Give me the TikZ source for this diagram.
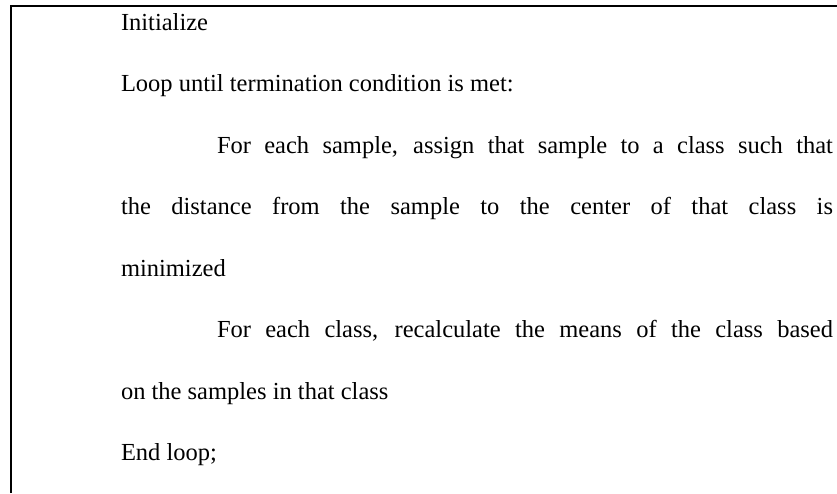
\documentclass[tikz,border=0pt]{standalone}
\usepackage{fontspec}
\setmainfont{Liberation Serif}
\begin{document}
\begin{tikzpicture}[x=1pt,y=1pt,
  codeline/.style={anchor=base west,inner sep=0pt,outer sep=0pt,
    font=\fontsize{24.5}{30}\selectfont}]
  \useasboundingbox (0,0) rectangle (837,-493);
  % frame: left and top rules only
  \draw[line width=2.4pt] (10.7,-493) -- (10.7,-5.8) -- (837,-5.8);
  % pseudocode lines, 61.5pt apart
  \node[codeline] (l1) at (121,-30) {Initialize};
  \node[codeline] (l2) at (121,-91.5) {Loop until termination condition is met:};
  \node[codeline] (l3) at (217,-153) {\makebox[616pt][s]{For each sample, assign that sample to a class such that}};
  \node[codeline] (l4) at (121,-214.5) {\makebox[712pt][s]{the distance from the sample to the center of that class is}};
  \node[codeline] (l5) at (121,-276) {minimized};
  \node[codeline] (l6) at (217,-337.5) {\makebox[616pt][s]{For each class, recalculate the means of the class based}};
  \node[codeline] (l7) at (121,-399) {on the samples in that class};
  \node[codeline] (l8) at (121,-460.5) {End loop;};
\end{tikzpicture}
\end{document}
